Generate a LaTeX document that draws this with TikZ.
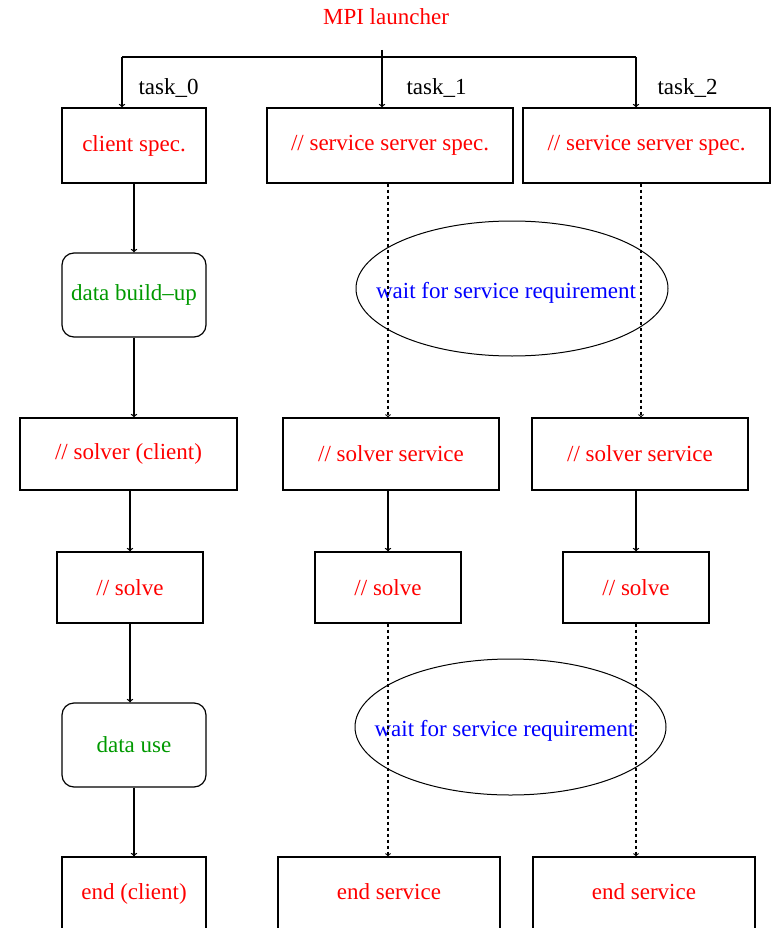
\documentclass[tikz,border=0pt]{standalone}
\usepackage{fontspec}
\setmainfont{Liberation Serif}
\usetikzlibrary{shapes.geometric}

\tikzset{
  txt/.style={font=\fontsize{23}{26}\selectfont},
  box/.style={draw,line width=1.2pt,rectangle,inner sep=0pt,txt,text=red},
  rbox/.style={box,rounded corners=12pt,text=green!60!black},
  oval/.style={draw,line width=1pt,ellipse,inner sep=0pt},
  waittxt/.style={txt,text=blue,xshift=-6pt,yshift=-4pt},
  solid arrow/.style={line width=1.3pt,->},
  dash arrow/.style={line width=1.1pt,dashed,->}
}

\begin{document}
\begin{tikzpicture}[x=1pt,y=-1pt]
\useasboundingbox (0,0) rectangle (772,928);

\node[txt,text=red] (mpi) at (386,17) {MPI launcher};

% the three tasks
\coordinate (t0) at (122,57);
\coordinate (t1) at (382,57);
\coordinate (t2) at (636,57);
\coordinate (top) at (382,50);

\node[box,minimum width=144pt,minimum height=75pt] (cspec) at (134,145.5) {client spec.};
\node[box,minimum width=246pt,minimum height=75pt] (sspec1) at (390,145.5) {// service server spec.};
\node[box,minimum width=247pt,minimum height=75pt] (sspec2) at (646.5,145.5) {// service server spec.};

\node[txt,anchor=west] (task0) at (135,88) {task\_0};
\node[txt,anchor=west] (task1) at (403,88) {task\_1};
\node[txt,anchor=west] (task2) at (654,88) {task\_2};

\draw [line width=1.2pt] (t0)--(t2);
\draw [line width=1.2pt] (top)--(t1);
\draw [solid arrow] (t0)--(t0 |- cspec.north);
\draw [solid arrow] (t1)--(t1 |- sspec1.north);
\draw [solid arrow] (t2)--(t2 |- sspec2.north);

% client column
\node[rbox,minimum width=144pt,minimum height=84pt] (build) at (134,295) {data build--up};
\node[box,minimum width=217pt,minimum height=72pt] (solverc) at (128.5,454) {// solver (client)};
\node[box,minimum width=146pt,minimum height=71pt] (solve0) at (130,587.5) {// solve};
\node[rbox,minimum width=144pt,minimum height=84pt] (datause) at (134,745) {data use};
\node[box,minimum width=144pt,minimum height=84pt] (endc) at (134,899) {\raisebox{0pt}[0pt][0pt]{end (client)}};

\draw [solid arrow] (cspec.south)--(cspec.south |- build.north);
\draw [solid arrow] (build.south)--(build.south |- solverc.north);
\draw [solid arrow] (solve0.north |- solverc.south)--(solve0.north);
\draw [solid arrow] (solve0.south)--(solve0.south |- datause.north);
\draw [solid arrow] (datause.south)--(datause.south |- endc.north);

% service columns
\node[box,minimum width=216pt,minimum height=72pt] (solv1) at (391,454) {// solver service};
\node[box,minimum width=216pt,minimum height=72pt] (solv2) at (640,454) {// solver service};
\node[box,minimum width=146pt,minimum height=71pt] (solve1) at (388,587.5) {// solve};
\node[box,minimum width=146pt,minimum height=71pt] (solve2) at (636,587.5) {// solve};
\node[box,minimum width=222pt,minimum height=84pt] (end1) at (389,899) {\raisebox{0pt}[0pt][0pt]{end service}};
\node[box,minimum width=222pt,minimum height=84pt] (end2) at (644,899) {\raisebox{0pt}[0pt][0pt]{end service}};

\node[oval,minimum width=312pt,minimum height=135pt,label={[waittxt]center:wait for service requirement}] (wait1) at (512,288.5) {};
\node[oval,minimum width=311pt,minimum height=136pt,label={[waittxt]center:wait for service requirement}] (wait2) at (510.5,727) {};

\draw [dash arrow] (sspec1.south -| 388,0)--(solv1.north -| 388,0);
\draw [dash arrow] (sspec2.south -| 641,0)--(solv2.north -| 641,0);
\draw [solid arrow] (solve1.north |- solv1.south)--(solve1.north);
\draw [solid arrow] (solve2.north |- solv2.south)--(solve2.north);
\draw [dash arrow] (solve1.south -| 388,0)--(end1.north -| 388,0);
\draw [dash arrow] (solve2.south -| 636,0)--(end2.north -| 636,0);
\end{tikzpicture}
\end{document}
